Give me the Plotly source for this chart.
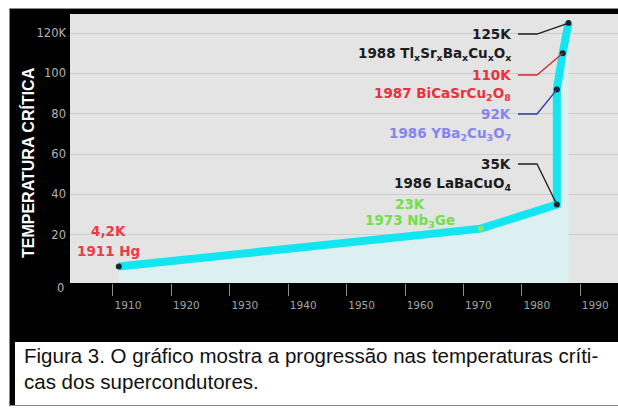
import plotly.graph_objects as go

# --- data -------------------------------------------------------------
years = [1911, 1973, 1986, 1986, 1987, 1988]
tc_kelvin = [4.2, 23, 35, 92, 110, 125]
materials = [
    "Hg",
    "Nb<sub>3</sub>Ge",
    "LaBaCuO<sub>4</sub>",
    "YBa<sub>2</sub>Cu<sub>3</sub>O<sub>7</sub>",
    "BiCaSrCu<sub>2</sub>O<sub>8</sub>",
    "Tl<sub>x</sub>Sr<sub>x</sub>Ba<sub>x</sub>Cu<sub>x</sub>O<sub>x</sub>",
]
label_colors = ["#ee3a46", "#6fe04a", "#1c1c1c", "#8585ec", "#e8323c", "#1c1c1c"]
link_colors = [None, None, "#1c1c1c", "#2a3aa0", "#d42a2a", "#1c1c1c"]
marker_colors = ["#1b2433", "#8fe05a", "#1b2433", "#1b2433", "#1b2433", "#1b2433"]

x_ticks = [1910, 1920, 1930, 1940, 1950, 1960, 1970, 1980, 1990]
y_ticks = [20, 40, 60, 80, 100, 120]
y_ticktext = ["20", "40", "60", "80", "100", "120K"]

caption_lines = [
    "Figura 3. O gráfico mostra a progressão nas temperaturas críti-",
    "cas dos supercondutores.",
]
y_title = "TEMPERATURA CRÍTICA"

# --- geometry ---------------------------------------------------------
W, H = 618, 412
L, R, T, B = 70, 618, 14, 283
X0, X1 = 1902.64, 1996.47
Y0, Y1 = -3.97, 129.5


def ppx(px):
    return (px - L) / (R - L)


def ppy(py):
    return (B - py) / (B - T)


def yr_from_px(px):
    return X0 + (px - L) / (R - L) * (X1 - X0)


def val_from_py(py):
    return Y0 + (B - py) / (B - T) * (Y1 - Y0)


def fmt_k(v):
    return f"{v:g}K".replace(".", ",")


fig = go.Figure()

# light band under the curve, down to the bottom of the plot
fig.add_trace(go.Scatter(x=years, y=[Y0] * len(years), mode="lines",
                         line=dict(width=0), hoverinfo="skip"))
fig.add_trace(go.Scatter(x=years, y=tc_kelvin, mode="lines",
                         line=dict(color="#12e6f0", width=8),
                         fill="tonexty", fillcolor="#dcf0f2", hoverinfo="skip"))
fig.add_trace(go.Scatter(x=years, y=tc_kelvin, mode="markers",
                         marker=dict(color=marker_colors, size=6),
                         hoverinfo="skip"))

shapes = []
annotations = []

# outer frame: white margins, black panel, white caption box
white = "#ffffff"
edge = "#8a8a8a"
shapes += [
    dict(type="rect", xref="paper", yref="paper", x0=ppx(0), x1=ppx(9.5),
         y0=ppy(H), y1=ppy(0), fillcolor=white, line_width=0),
    dict(type="rect", xref="paper", yref="paper", x0=ppx(0), x1=ppx(W),
         y0=ppy(8.5), y1=ppy(0), fillcolor=white, line_width=0),
    dict(type="rect", xref="paper", yref="paper", x0=ppx(0), x1=ppx(W),
         y0=ppy(H), y1=ppy(406), fillcolor=white, line_width=0),
    dict(type="rect", xref="paper", yref="paper", x0=ppx(15), x1=ppx(W),
         y0=ppy(405), y1=ppy(342), fillcolor=white, line_width=0),
    dict(type="line", xref="paper", yref="paper", x0=ppx(9.5), x1=ppx(9.5),
         y0=ppy(406), y1=ppy(8.5), line=dict(color=edge, width=1)),
    dict(type="line", xref="paper", yref="paper", x0=ppx(9.5), x1=ppx(W),
         y0=ppy(8.5), y1=ppy(8.5), line=dict(color=edge, width=1)),
    dict(type="line", xref="paper", yref="paper", x0=ppx(9.5), x1=ppx(W),
         y0=ppy(405.5), y1=ppy(405.5), line=dict(color=edge, width=1)),
]

label_font = "DejaVu Sans"
# text anchor per point: (x pixel, anchor, y of temperature line, y of name line)
label_pos = [
    (108, "center", 231, 251),
    (410, "center", 204, 221),
    (513, "right", 164, 184),
    (513, "right", 114, 134),
    (513, "right", 75, 94),
    (513, "right", 34, 54),
]

for yr, v, mat, col, lcol, pos in zip(years, tc_kelvin, materials,
                                      label_colors, link_colors, label_pos):
    lx, anchor, y1, y2 = pos
    annotations.append(dict(xref="paper", yref="paper", x=ppx(lx), y=ppy(y1),
                            xanchor=anchor, yanchor="middle", showarrow=False,
                            text=f"<b>{fmt_k(v)}</b>",
                            font=dict(family=label_font, size=13.5, color=col)))
    annotations.append(dict(xref="paper", yref="paper", x=ppx(lx), y=ppy(y2),
                            xanchor=anchor, yanchor="middle", showarrow=False,
                            text=f"<b>{yr} {mat}</b>",
                            font=dict(family=label_font, size=13.5, color=col)))
    if lcol:
        sx, bx = 518, 537
        path = (f"M {yr_from_px(sx)},{val_from_py(y1)} "
                f"L {yr_from_px(bx)},{val_from_py(y1)} L {yr},{v}")
        shapes.append(dict(type="path", xref="x", yref="y", path=path,
                           line=dict(color=lcol, width=1.3), layer="above"))

# zero label sits just below the plot floor
annotations.append(dict(xref="paper", yref="paper", x=ppx(66), y=ppy(288),
                        xanchor="right", yanchor="middle", showarrow=False,
                        text="0", font=dict(family=label_font, size=11.5,
                                            color="#b4b4b4")))

# rotated axis title
annotations.append(dict(xref="paper", yref="paper", x=ppx(28), y=ppy(163),
                        xanchor="center", yanchor="middle", showarrow=False,
                        textangle=-90, text=f"<b>{y_title}</b>",
                        font=dict(family="Liberation Sans, Arial", size=16,
                                  color="#ffffff")))

# caption
for line, cy in zip(caption_lines, [355, 381]):
    annotations.append(dict(xref="paper", yref="paper", x=ppx(22), y=ppy(cy),
                            xanchor="left", yanchor="middle", showarrow=False,
                            text=line, align="left",
                            font=dict(family="Liberation Sans, Arial", size=20.5,
                                      color="#111111")))

fig.update_layout(
    width=W, height=H,
    margin=dict(l=L, r=W - R, t=T, b=H - B, pad=0),
    paper_bgcolor="#000000",
    plot_bgcolor="#e4e4e4",
    showlegend=False,
    shapes=shapes,
    annotations=annotations,
    xaxis=dict(range=[X0, X1], tickvals=x_ticks, ticktext=[str(t) for t in x_ticks],
               ticks="outside", ticklen=12, tickwidth=1, tickcolor="#8c8c8c",
               showgrid=False, zeroline=False, showline=False,
               ticklabelshift=15,
               tickfont=dict(family=label_font, size=10.5, color="#a4a4a4")),
    yaxis=dict(range=[Y0, Y1], tickvals=y_ticks, ticktext=y_ticktext,
               ticks="", showgrid=True, gridcolor="#cdcdcd", gridwidth=1,
               zeroline=False, showline=False, ticklabelstandoff=3,
               tickfont=dict(family=label_font, size=11.5, color="#b4b4b4")),
)

fig.write_html("out.html")
